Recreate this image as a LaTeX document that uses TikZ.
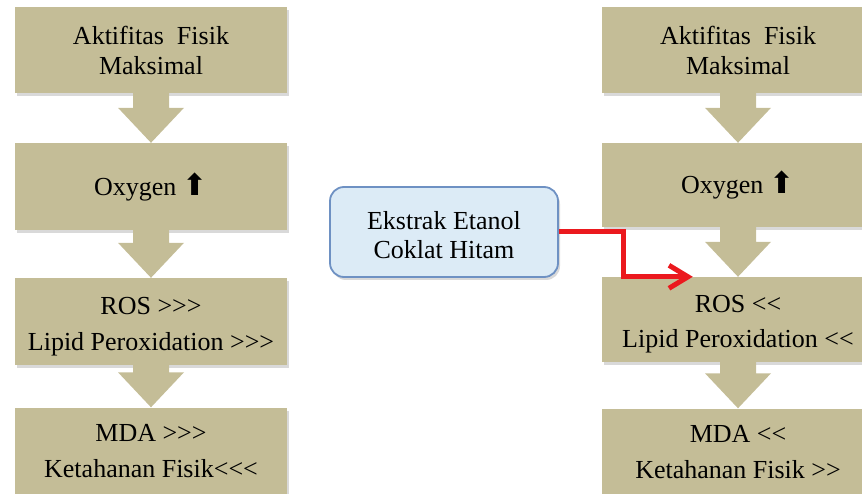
\documentclass[tikz,border=0pt]{standalone}
\usepackage{fontspec}
\setmainfont[Ligatures=TeXOff]{Liberation Serif}
\newfontfamily\arrowfont{DejaVu Sans}
\usetikzlibrary{calc,arrows.meta,shadows}
\definecolor{tanc}{RGB}{196,189,151}
\definecolor{bluefill}{RGB}{220,235,246}
\definecolor{blueline}{RGB}{110,145,195}
\definecolor{redc}{RGB}{235,25,30}
\tikzset{
  flowbox/.style={fill=tanc, minimum width=272pt, minimum height=87pt, inner sep=0pt, align=center,
    font=\rmfamily\fontsize{26}{35}\selectfont,
    drop shadow={shadow xshift=2pt, shadow yshift=-3pt, opacity=0.25, fill=black!60}},
  extbox/.style={fill=bluefill, draw=blueline, line width=1.8pt, rounded corners=14pt,
    minimum width=228pt, minimum height=90pt, inner sep=0pt, align=center,
    font=\rmfamily\fontsize{26}{29}\selectfont,
    drop shadow={shadow xshift=2pt, shadow yshift=-3pt, opacity=0.25, fill=black!60}},
  flowarr/.style={fill=tanc},
  redline/.style={draw=redc, line width=5pt, -{Straight Barb[length=19pt,width=23pt,line width=5pt]}}
}
\newcommand{\uparr}{{\arrowfont\fontsize{30}{30}\selectfont ⬆}}
\newcommand{\lowered}[2]{\raisebox{#1}[\height][\depth]{\begin{tabular}{@{}c@{}}#2\end{tabular}}}
\newcommand{\flowarrow}[2]{%
  \fill[flowarr] ($(#1.south)+(-18pt,0pt)$) -- ($(#1.south)+(18pt,0pt)$)
    -- ($(#2.north)+(18pt,35pt)$) -- ($(#2.north)+(33pt,35pt)$)
    -- (#2.north) -- ($(#2.north)+(-33pt,35pt)$) -- ($(#2.north)+(-18pt,35pt)$) -- cycle;}
\begin{document}
\begin{tikzpicture}[x=1pt,y=-1pt]
\useasboundingbox (0,0) rectangle (862,494);
\clip (0,0) rectangle (862,494);
% left column
\node[flowbox, font=\rmfamily\fontsize{26}{30}\selectfont, minimum height=86pt] (l1) at (151,50) {Aktifitas\ \ Fisik\\Maksimal};
\node[flowbox] (l2) at (151,186.5) {Oxygen \uparr};
\node[flowbox] (l3) at (151,321.5) {\lowered{-4pt}{ROS >>>\\Lipid Peroxidation >>>}};
\node[flowbox, font=\rmfamily\fontsize{26}{36}\selectfont] (l4) at (151,451) {MDA >>>\\Ketahanan Fisik<<<};
% right column
\node[flowbox, font=\rmfamily\fontsize{26}{30}\selectfont, minimum height=86pt] (r1) at (738,50) {Aktifitas\ \ Fisik\\Maksimal};
\node[flowbox, minimum height=84pt] (r2) at (738,185) {Oxygen \uparr};
\node[flowbox, minimum height=85pt] (r3) at (738,319.5) {\lowered{-4pt}{ROS <<\\Lipid Peroxidation <<}};
\node[flowbox, font=\rmfamily\fontsize{26}{36}\selectfont] (r4) at (738,452) {MDA <<\\Ketahanan Fisik >>};
% arrows
\flowarrow{l1}{l2}
\flowarrow{l2}{l3}
\flowarrow{l3}{l4}
\flowarrow{r1}{r2}
\flowarrow{r2}{r3}
\flowarrow{r3}{r4}
% extract box
\node[extbox] (ext) at (444,232) {\lowered{-6pt}{Ekstrak Etanol\\Coklat Hitam}};
\coordinate (tipc) at ($(r3.north west)+(91pt,0pt)$);
\draw[redline] (ext.east) -- ++(65,0) |- (tipc);
\end{tikzpicture}
\end{document}
